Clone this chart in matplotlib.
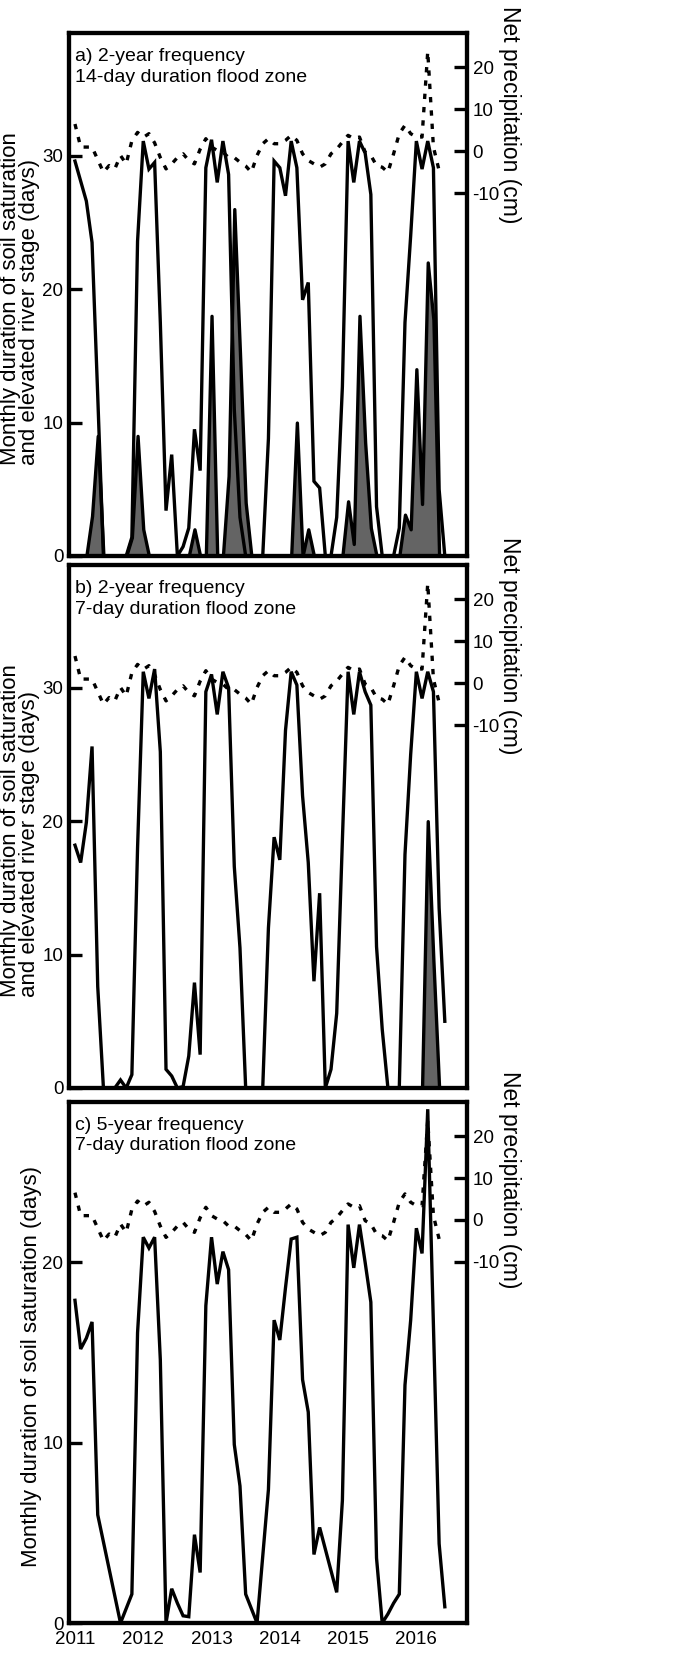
import numpy as np
import matplotlib
matplotlib.use('Agg')
import matplotlib.pyplot as plt

plt.rcParams['font.family'] = ['Liberation Sans', 'DejaVu Sans']

# ---------------- data (monthly, Jan 2011 .. Jun 2016) ----------------
year_labels = ['2011', '2012', '2013', '2014', '2015', '2016']
year_ticks = [0, 12, 24, 36, 48, 60]
months = np.arange(66)

net_precip = [6.5, 1.0, 1.0, 1.0, -2.0, -5.0, -3.4, -4.2, -1.0, -3.0, 2.5, 4.5,
              3.3, 4.2, 2.0, -1.5, -4.2, -3.0, -1.5, -0.6, -2.2, -3.0, 0.5, 3.0,
              1.0, 0.2, -0.2, -1.5, -1.5, -2.6, -3.5, -5.0, -1.0, 1.8, 3.0, 1.8,
              1.8, 2.6, 3.8, 2.6, -0.6, -2.2, -3.0, -3.8, -3.0, -0.6, 0.5, 2.2,
              3.8, 3.0, 3.4, -0.2, -1.0, -3.4, -3.8, -5.0, -0.6, 4.2, 6.2, 4.2,
              3.4, 3.4, 23.8, 1.0, -4.6]

sat_a = [29.6, 28.1, 26.6, 23.5, 12.0, 0, 0, 0, 0, 0, 1.4, 23.6,
         31.1, 29.0, 29.5, 17.5, 3.4, 7.6, 0, 0.7, 2.1, 9.5, 6.4, 29.1,
         31.2, 28.0, 31.1, 28.6, 11.0, 2.9, 0, 0, 0, 0, 8.8, 29.6,
         29.1, 27.0, 31.1, 29.1, 19.2, 20.5, 5.6, 5.1, 0, 0, 2.9, 12.7,
         31.1, 28.0, 31.1, 30.2, 27.1, 3.7, 0, 0, 0, 2.1, 17.5, 24.0,
         31.1, 29.0, 31.1, 29.1, 5.0, 0]
river_a = [0, 0, 0, 3.0, 9.0, 0, 0, 0, 0, 0, 1.4, 9.0,
           2.0, 0, 0, 0, 0, 0, 0, 0, 0, 2.0, 0, 0,
           18.0, 0, 0, 6.0, 26.0, 15.2, 4.0, 0, 0, 0, 0, 0,
           0, 0, 0, 10.0, 0, 2.0, 0, 0, 0, 0, 0, 0,
           4.1, 0.9, 18.0, 8.5, 2.1, 0, 0, 0, 0, 0, 3.1, 2.0,
           14.0, 3.9, 22.0, 17.7, 0, 0]

sat_b = [18.2, 16.9, 19.9, 25.6, 7.6, 0, 0, 0, 0.6, 0, 1.0, 18.0,
         31.2, 29.2, 31.4, 25.2, 1.4, 0.9, 0, 0.1, 2.4, 7.9, 2.5, 29.7,
         31.0, 28.0, 31.2, 30.0, 16.6, 10.5, 0, 0, 0, 0, 12.0, 18.8,
         17.1, 26.8, 31.2, 30.2, 21.9, 16.9, 8.0, 14.6, 0, 1.4, 5.6, 18.6,
         31.2, 28.0, 31.2, 29.7, 28.7, 10.6, 4.4, 0, 0, 0, 17.5, 25.0,
         31.2, 29.2, 31.2, 29.7, 13.5, 5.0]
river_b = [0] * 62 + [20.0, 9.5, 0, 0]

sat_c = [17.9, 15.2, 15.8, 16.7, 6.0, 4.5, 3.0, 1.5, 0.0, 0.8, 1.6, 16.1,
         21.4, 20.8, 21.4, 14.6, 0.0, 1.9, 1.1, 0.4, 0.35, 4.9, 2.8, 17.6,
         21.4, 18.8, 20.6, 19.6, 9.9, 7.6, 1.6, 0.8, 0.0, 3.7, 7.4, 16.8,
         15.7, 18.6, 21.3, 21.4, 13.5, 11.7, 3.8, 5.3, 4.1, 2.9, 1.7, 6.8,
         22.1, 19.7, 22.1, 20.0, 17.8, 3.6, 0.0, 0.5, 1.1, 1.6, 13.2, 16.8,
         21.9, 20.5, 28.5, 16.5, 4.4, 0.9]

panel_titles = ["a) 2-year frequency\n14-day duration flood zone",
                "b) 2-year frequency\n7-day duration flood zone",
                "c) 5-year frequency\n7-day duration flood zone"]
left_labels = ["Monthly duration of soil saturation\nand elevated river stage (days)",
               "Monthly duration of soil saturation\nand elevated river stage (days)",
               "Monthly duration of soil saturation (days)"]
right_label = "Net precipitation (cm)"
precip_ticks = [-10, 0, 10, 20]

# ---------------- figure ----------------
W, H = 685, 1655
fig = plt.figure(figsize=(W / 100, H / 100), dpi=100)

def frac_rect(left, top, right, bottom):
    return [left / W, 1 - bottom / H, (right - left) / W, (bottom - top) / H]

rects = [frac_rect(69, 33, 467, 556), frac_rect(69, 565, 467, 1088), frac_rect(69, 1102, 467, 1623)]
ylims = [(0, 39.2), (0, 39.2), (0, 28.9)]
yticks = [[0, 10, 20, 30], [0, 10, 20, 30], [0, 10, 20]]
sats = [sat_a, sat_b, sat_c]
rivers = [river_a, river_b, None]
rlabel_y = [0.843, 0.845, 0.85]
llabel_x = [-0.123, -0.123, -0.095]

LW = 2.4
SPW = 3.0
GRAY = '#646464'
TICKFS = 13.5

for i in range(3):
    ax = fig.add_axes(rects[i])
    ax2 = ax.twinx()
    ax.set_xlim(-1.05, 68.9)
    ax.set_ylim(*ylims[i])
    ax2.set_ylim(-96.5, 28.2)

    if rivers[i] is not None:
        ax.fill_between(months, 0, rivers[i], facecolor=GRAY, edgecolor='black',
                        linewidth=LW, zorder=2)
    ax.plot(months, sats[i], color='black', lw=LW, zorder=3, solid_joinstyle='miter')
    ax2.plot(months[:len(net_precip)], net_precip, color='black', lw=LW,
             linestyle=(0, (1.6, 2.4)), zorder=3)

    for a in (ax, ax2):
        for s in a.spines.values():
            s.set_linewidth(SPW)

    ax.set_yticks(yticks[i])
    ax.set_yticklabels([str(t) for t in yticks[i]])
    ax.tick_params(axis='y', direction='in', length=9.4, width=2.4, labelsize=TICKFS, pad=4)
    ax2.set_yticks(precip_ticks)
    ax2.set_yticklabels([str(t) for t in precip_ticks])
    ax2.tick_params(axis='y', direction='in', length=9.4, width=2.4, labelsize=TICKFS, pad=4)

    ax.set_xticks(year_ticks)
    if i == 2:
        ax.set_xticklabels(year_labels)
        ax.tick_params(axis='x', length=0, labelsize=TICKFS, pad=6)
    else:
        ax.set_xticklabels([])
        ax.tick_params(axis='x', length=0)

    ax.text(0.015, 0.972, panel_titles[i], transform=ax.transAxes, ha='left', va='top',
            fontsize=14, linespacing=1.3)
    ax.text(llabel_x[i], 0.493, left_labels[i], transform=ax.transAxes, rotation=90,
            ha='center', va='center', fontsize=16, linespacing=0.9, multialignment='left')
    ax.text(1.108, rlabel_y[i], right_label, transform=ax.transAxes, rotation=270,
            ha='center', va='center', fontsize=16.5)

fig.savefig('out.png', dpi=100)
